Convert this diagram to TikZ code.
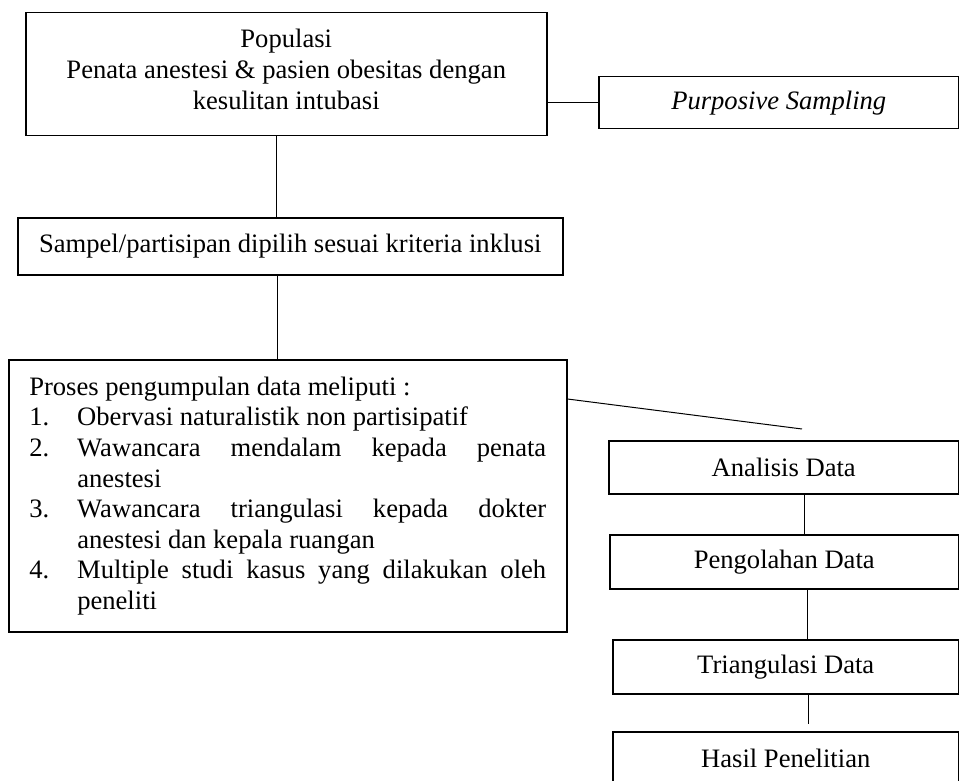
\documentclass[tikz,border=0pt]{standalone}
\usepackage{fontspec}
\setmainfont{Liberation Serif}

\newcommand{\listitem}[2]{\par\noindent\hangindent=24pt\hangafter=1\makebox[24pt][l]{#1}#2}

\begin{document}
\begin{tikzpicture}[x=0.5pt, y=-0.5pt,
	box/.style={draw, line width=0.75pt, anchor=north west, inner sep=0pt, align=center, font=\fontsize{13.3pt}{15.3pt}\selectfont},
	link/.style={line width=0.5pt}]
	\useasboundingbox (0,0) rectangle (959,781);
	
	%population and sampling
	\node[box, minimum width=260.5pt, minimum height=61.5pt, font=\fontsize{13.3pt}{15.5pt}\selectfont] (pop) at (25,12) {Populasi \\ Penata anestesi \& pasien obesitas dengan \\ kesulitan intubasi\rule[-5pt]{0pt}{5pt}};
	\node[box, minimum width=180pt, minimum height=26pt] (purp) at (598,76) {\textit{Purposive Sampling}};
	\draw[link] (pop.east |- purp.west) -- (purp.west);
	
	%sample
	\node[box, minimum width=272.5pt, minimum height=28.5pt] (samp) at (17,217) {Sampel/partisipan dipilih sesuai kriteria inklusi};
	\draw[link] (276,0 |- pop.south) -- (276,0 |- samp.north);
	
	%data collection
	\node[box, align=justify, text width=258.5pt, inner xsep=10.25pt, inner ysep=8.5pt, minimum height=136pt] (proc) at (8,359) {\hyphenpenalty=10000 Proses pengumpulan data meliputi :
		\listitem{1.}{Obervasi naturalistik non partisipatif}
		\listitem{2.}{Wawancara mendalam kepada penata anestesi}
		\listitem{3.}{Wawancara triangulasi kepada dokter anestesi dan kepala ruangan}
		\listitem{4.}{Multiple studi kasus yang dilakukan oleh peneliti}\par};
	\draw[link] (277,0 |- samp.south) -- (277,0 |- proc.north);
	
	%analysis chain
	\node[box, minimum width=175pt, minimum height=26.5pt] (ana) at (608,440) {Analisis Data};
	\node[box, minimum width=174.5pt, minimum height=27pt] (peng) at (609,534) {Pengolahan Data};
	\node[box, minimum width=173pt, minimum height=27pt] (tri) at (612,639) {Triangulasi Data};
	\node[box, minimum width=173pt, minimum height=27pt] (has) at (612,731) {Hasil Penelitian};
	\coordinate (slantend) at (802,429);
	\coordinate (hasgap) at (808,724);
	\draw[link] (proc.east |- 0,399) -- (slantend);
	\draw[link] (804,0 |- ana.south) -- (804,0 |- peng.north);
	\draw[link] (807,0 |- peng.south) -- (807,0 |- tri.north);
	\draw[link] (808,0 |- tri.south) -- (hasgap);
\end{tikzpicture}
\end{document}
